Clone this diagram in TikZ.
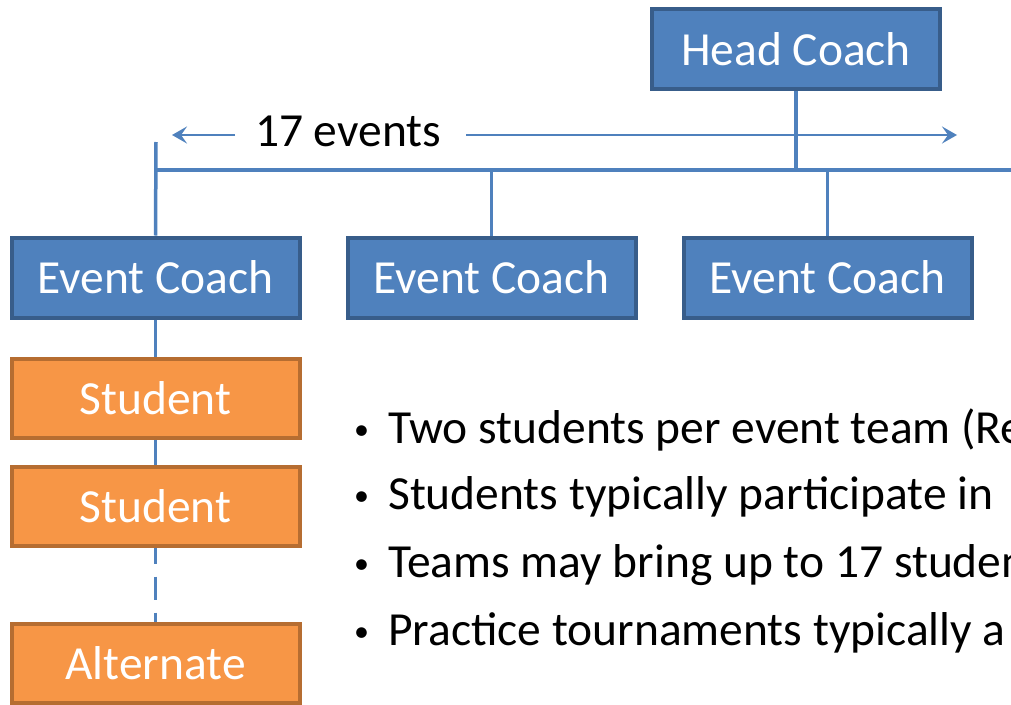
\documentclass[tikz,border=0pt]{standalone}
\usepackage{fontspec}
\setmainfont{Carlito}
\usetikzlibrary{arrows.meta}
\definecolor{boxblue}{HTML}{4F81BD}
\definecolor{boxblueline}{HTML}{385D8A}
\definecolor{boxorange}{HTML}{F79646}
\definecolor{boxorangeline}{HTML}{B66D31}
\newcommand{\bigtext}{\fontsize{47.5}{54}\selectfont}
\newcommand{\bulletmark}{\makebox[36pt][l]{\hspace*{2pt}{\fontsize{30}{30}\selectfont\raisebox{4pt}{•}}}}
\tikzset{
  coachbox/.style={draw=boxblueline, fill=boxblue, line width=4pt, text=white,
    minimum width=288pt, minimum height=80pt, inner sep=0pt, font=\bigtext},
  studbox/.style={draw=boxorangeline, fill=boxorange, line width=4pt, text=white,
    minimum width=288pt, minimum height=79pt, inner sep=0pt, font=\bigtext},
  conn/.style={draw=boxblue, line width=3.5pt},
  spanarrow/.style={draw=boxblue, line width=2.2pt, -{Stealth[length=15pt,width=17pt,inset=6pt]}},
  bullettext/.style={anchor=west, inner sep=0pt, font=\bigtext, text=black},
}
\begin{document}
\begin{tikzpicture}[x=1pt,y=-1pt]
\useasboundingbox (0,0) rectangle (1011,704);
\clip (0,0) rectangle (1011,704);
% nodes
\node[coachbox] (head) at (796,49) {Head Coach};
\node[coachbox] (ec1) at (155.5,277.5) {Event Coach};
\node[coachbox] (ec2) at (491.5,277.5) {Event Coach};
\node[coachbox] (ec3) at (827.5,277.5) {Event Coach};
\node[studbox] (s1) at (155.5,398) {Student};
\node[studbox] (s2) at (155.5,506) {Student};
\node[studbox] (alt) at (155.5,663) {Alternate};
% bus
\coordinate (busL) at (156,170);
\coordinate (busR) at (1015,170);
\coordinate (busTop) at (156,142);
\draw[conn] (busL) -- (busR);
\draw[conn] (head.south) -- (head.south |- busL);
\draw[conn] (busTop) -- (ec1.north);
\draw[conn] (ec2.north |- busL) -- (ec2.north);
\draw[conn] (ec3.north |- busL) -- (ec3.north);
\draw[conn] (ec1.south) -- (s1.north);
\draw[conn] (s1.south) -- (s2.north);
\draw[conn, dash pattern=on 16pt off 13pt on 23pt off 13pt on 20pt off 20pt] (s2.south) -- (alt.north);
% span label
\node[inner sep=0pt, font=\bigtext] (span) at (348,131) {17 events};
\coordinate (arrL0) at (235,135);
\coordinate (arrL1) at (172,135);
\coordinate (arrR0) at (466,135);
\coordinate (arrR1) at (957,135);
\draw[spanarrow] (arrL0) -- (arrL1);
\draw[spanarrow] (arrR0) -- (arrR1);
% bullets
\node[bullettext] (b1) at (352,430) {\bulletmark Two students per event team (Re};
\node[bullettext] (b2) at (352,497) {\bulletmark Students typically participate in};
\node[bullettext] (b3) at (352,565) {\bulletmark Teams may bring up to 17 studen};
\node[bullettext] (b4) at (352,633) {\bulletmark Practice tournaments typically a};
\end{tikzpicture}
\end{document}
